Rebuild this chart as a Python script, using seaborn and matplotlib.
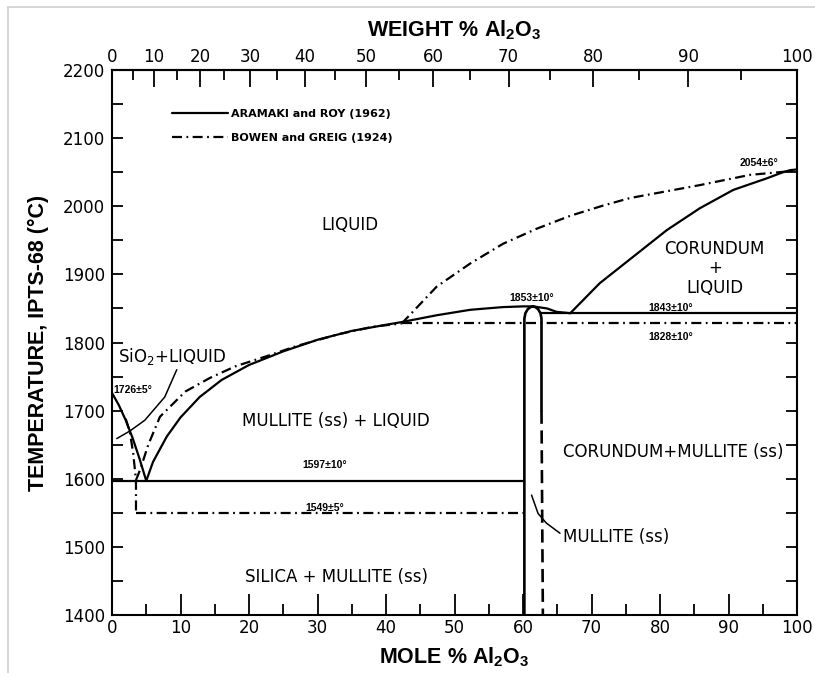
import numpy as np
import pandas as pd
import matplotlib
matplotlib.use("Agg")
import matplotlib.pyplot as plt
from matplotlib.lines import Line2D
from matplotlib.ticker import MultipleLocator, FixedLocator
import seaborn as sns

# ---------------- data: (mole % Al2O3, temperature °C) ----------------
# Aramaki and Roy (1962) -- solid lines
ar_silica_liq_x = [0, 1, 2, 3, 4, 5]
ar_silica_liq_t = [1726, 1708, 1686, 1660, 1630, 1597]
ar_mullite_liq_x = [5, 6, 8, 10, 12.8, 16, 20, 25, 30, 35, 40, 42.3, 47.4, 52.3, 57.1, 60.0, 61.45]
ar_mullite_liq_t = [1597, 1625, 1662, 1690, 1720, 1745, 1767, 1787, 1804, 1817, 1826, 1830, 1840, 1848, 1852, 1853, 1853]
ar_right_liq_x = [61.45, 63.5, 64.9, 66.9]
ar_right_liq_t = [1853, 1850, 1845, 1843]
ar_corundum_liq_x = [66.9, 71.2, 76.1, 81.0, 85.8, 90.7, 95.6, 97.7, 99.0, 100]
ar_corundum_liq_t = [1843, 1887, 1926, 1965, 1997, 2024, 2041, 2049, 2053, 2054]
ar_mullite_ss_x = [60.2, 60.2, 60.35, 60.7, 61.1, 61.45, 61.8, 62.2, 62.55, 62.7, 62.7]
ar_mullite_ss_t = [1400, 1835, 1843, 1849, 1852, 1853, 1852, 1849, 1843, 1835, 1700]
ar_mullite_ss_dash_x = [62.7, 62.9]
ar_mullite_ss_dash_t = [1700, 1400]
ar_eutectic_x = [0, 60.2]
ar_eutectic_t = [1597, 1597]
ar_peritectic_x = [62.7, 100]
ar_peritectic_t = [1843, 1843]

# Bowen and Greig (1924) -- dash-dot lines
bg_silica_liq_x = [2.0, 2.6, 3.1, 3.5, 3.5]
bg_silica_liq_t = [1688, 1669, 1637, 1598, 1549]
bg_mullite_liq_x = [3.5, 4.1, 5.3, 7.0, 10.7, 14.3, 18, 22.6, 27, 33, 38, 42.3]
bg_mullite_liq_t = [1598, 1613, 1650, 1691, 1728, 1748, 1765, 1780, 1795, 1812, 1823, 1828]
bg_upper_liq_x = [42.3, 47.4, 52.3, 57.1, 62.0, 66.9, 71.7, 75.6, 85.8, 93.1, 98.5, 100]
bg_upper_liq_t = [1828, 1882, 1916, 1945, 1967, 1986, 2001, 2012, 2031, 2046, 2051, 2053]
bg_eutectic_x = [3.5, 60.2]
bg_eutectic_t = [1549, 1549]
bg_peritectic_x = [42.3, 100]
bg_peritectic_t = [1828, 1828]

# label leader lines
lead_sio2_x = [9.45, 7.7, 4.8, 2.6, 0.7]
lead_sio2_t = [1760, 1720, 1686, 1670, 1659]
lead_mullite_x = [61.25, 62.2, 63.4, 65.4]
lead_mullite_t = [1576, 1549, 1535, 1520]

mole_ticks = list(range(0, 101, 10))
temp_ticks = list(range(1400, 2201, 100))
weight_ticks = list(range(0, 101, 10))
weight_minor = list(range(5, 100, 10))

M_AL2O3 = 101.96
M_SIO2 = 60.08

# ---------------- style ----------------
sns.set_style("ticks")
plt.rcParams["font.family"] = ["DejaVu Sans"]
plt.rcParams.update({
    "axes.linewidth": 1.5,
    "text.color": "black",
    "axes.labelcolor": "black",
    "xtick.color": "black",
    "ytick.color": "black",
    "axes.edgecolor": "black",
})

fig = plt.figure(figsize=(8.15, 6.73), dpi=100)
ax = fig.add_axes([112 / 815, 1 - 615 / 673, (797 - 112) / 815, (615 - 70) / 673])

DASHDOT = (0, (4.5, 2.0, 0.8, 2.0))
DASHED = (0, (5.0, 2.5))
LW = 1.6


def draw(x, t, style="-", lw=LW):
    df = pd.DataFrame({"mol": x, "T": t})
    sns.lineplot(data=df, x="mol", y="T", ax=ax, color="black", lw=lw,
                 linestyle=style, sort=False, estimator=None, legend=False)


# solid lines
draw(ar_silica_liq_x, ar_silica_liq_t)
draw(ar_mullite_liq_x, ar_mullite_liq_t)
draw(ar_right_liq_x, ar_right_liq_t)
draw(ar_corundum_liq_x, ar_corundum_liq_t)
draw(ar_mullite_ss_x, ar_mullite_ss_t, lw=1.9)
draw(ar_mullite_ss_dash_x, ar_mullite_ss_dash_t, style=DASHED, lw=1.9)
draw(ar_eutectic_x, ar_eutectic_t)
draw(ar_peritectic_x, ar_peritectic_t)
# dash-dot lines
draw(bg_silica_liq_x, bg_silica_liq_t, style=DASHDOT)
draw(bg_mullite_liq_x, bg_mullite_liq_t, style=DASHDOT)
draw(bg_upper_liq_x, bg_upper_liq_t, style=DASHDOT)
draw(bg_eutectic_x, bg_eutectic_t, style=DASHDOT)
draw(bg_peritectic_x, bg_peritectic_t, style=DASHDOT)
# leaders
draw(lead_sio2_x, lead_sio2_t, lw=1.1)
draw(lead_mullite_x, lead_mullite_t, lw=1.1)

ax.set_xlim(0, 100)
ax.set_ylim(1400, 2200)
ax.set_xticks(mole_ticks)
ax.xaxis.set_minor_locator(MultipleLocator(5))
ax.set_yticks(temp_ticks)
ax.yaxis.set_minor_locator(MultipleLocator(50))
ax.tick_params(axis="x", which="major", direction="in", length=15, width=1.3,
               labelsize=12, pad=3, top=False, bottom=True)
ax.tick_params(axis="x", which="minor", direction="in", length=8, width=1.3,
               top=False, bottom=True)
ax.tick_params(axis="y", which="both", direction="in", length=8, width=1.3,
               labelsize=12, left=True, right=True, pad=5)
for s in ax.spines.values():
    s.set_visible(True)
    s.set_color("black")
    s.set_linewidth(1.5)


def mol2wt(m):
    m = np.asarray(m, dtype=float)
    with np.errstate(divide="ignore", invalid="ignore"):
        return 100 * m * M_AL2O3 / (m * M_AL2O3 + (100 - m) * M_SIO2)


def wt2mol(w):
    w = np.asarray(w, dtype=float)
    with np.errstate(divide="ignore", invalid="ignore"):
        return 100 * (w / M_AL2O3) / (w / M_AL2O3 + (100 - w) / M_SIO2)


secax = ax.secondary_xaxis("top", functions=(mol2wt, wt2mol))
secax.set_xticks(weight_ticks)
secax.xaxis.set_minor_locator(FixedLocator(weight_minor))
secax.tick_params(axis="x", which="major", direction="in", length=12, width=1.3,
                  labelsize=12, pad=3, colors="black")
secax.tick_params(axis="x", which="minor", direction="in", length=7, width=1.3)
secax.spines["top"].set_linewidth(1.5)

title_font = dict(family=["Liberation Sans", "DejaVu Sans"], weight="bold", size=15.5)
ax.set_xlabel(r"MOLE % Al$_\mathregular{2}$O$_\mathregular{3}$", fontdict=title_font, labelpad=6)
secax.set_xlabel(r"WEIGHT % Al$_\mathregular{2}$O$_\mathregular{3}$", fontdict=title_font, labelpad=8)
ax.set_ylabel("TEMPERATURE, IPTS-68 (°C)", fontdict=title_font, labelpad=10)

# region labels
reg = dict(fontsize=12, color="black")
ax.text(34.7, 1973, "LIQUID", ha="center", va="center", **reg)
ax.text(88.0, 1909, "CORUNDUM\n+\nLIQUID", ha="center", va="center", linespacing=1.1, **reg)
ax.text(0.9, 1779, r"SiO$_\mathregular{2}$+LIQUID", ha="left", va="center", **reg)
ax.text(32.7, 1685, "MULLITE (ss) + LIQUID", ha="center", va="center", **reg)
ax.text(32.8, 1456, "SILICA + MULLITE (ss)", ha="center", va="center", **reg)
ax.text(65.8, 1515, "MULLITE (ss)", ha="left", va="center", **reg)
ax.text(82.0, 1639, "CORUNDUM+MULLITE (ss)", ha="center", va="center", **reg)

# temperature annotations
tmp = dict(fontsize=7.5, fontweight="bold", color="black",
           family=["Liberation Sans", "DejaVu Sans"])
ax.text(0.2, 1730, "1726±5°", ha="left", va="center", **tmp)
ax.text(31.1, 1620, "1597±10°", ha="center", va="center", **tmp)
ax.text(31.1, 1557, "1549±5°", ha="center", va="center", **tmp)
ax.text(61.2, 1866, "1853±10°", ha="center", va="center", **tmp)
ax.text(81.5, 1851, "1843±10°", ha="center", va="center", **tmp)
ax.text(81.5, 1808, "1828±10°", ha="center", va="center", **tmp)
ax.text(94.5, 2064, "2054±6°", ha="center", va="center", **tmp)

# legend
handles = [Line2D([], [], color="black", lw=LW),
           Line2D([], [], color="black", lw=LW, linestyle=DASHDOT)]
leg = ax.legend(handles, ["ARAMAKI and ROY (1962)", "BOWEN and GREIG (1924)"],
                loc="upper left", bbox_to_anchor=(0.0876, 0.928), frameon=False,
                borderpad=0, borderaxespad=0, handlelength=5.0, handletextpad=0.35,
                labelspacing=1.22, prop=dict(size=8, weight="bold"))
for txt in leg.get_texts():
    txt.set_color("black")

# light frame of the original screenshot
fig.add_artist(Line2D([8 / 815, 8 / 815], [0, 1 - 7 / 673], transform=fig.transFigure,
                      color="#d0d0d0", lw=1.2))
fig.add_artist(Line2D([8 / 815, 1], [1 - 7 / 673, 1 - 7 / 673], transform=fig.transFigure,
                      color="#d0d0d0", lw=1.2))

fig.savefig("out.png", dpi=100, facecolor="white")
